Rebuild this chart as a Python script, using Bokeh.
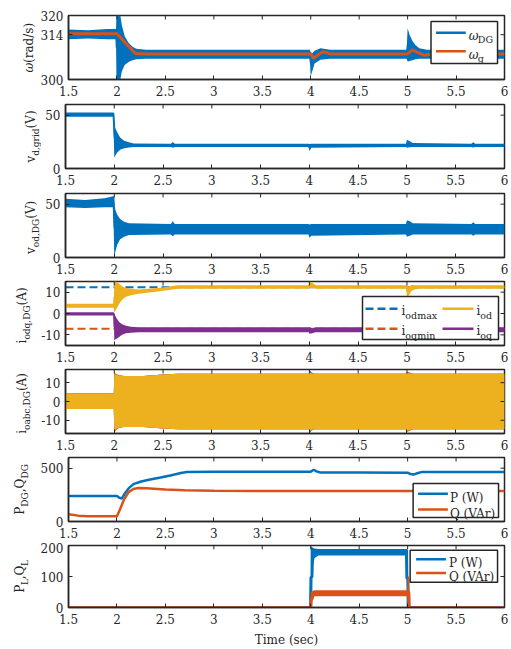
import math
from bokeh.plotting import figure
from bokeh.models import Label, Range1d, FixedTicker
from bokeh.layouts import column, row
from bokeh.embed import file_html
from bokeh.resources import INLINE
from bokeh.core.properties import value

# ---------------- data ----------------
X_RANGE = (1.5, 6.0)
X_TICKS = [1.5, 2, 2.5, 3, 3.5, 4, 4.5, 5, 5.5, 6]
X_TICK_LABELS = ["1.5", "2", "2.5", "3", "3.5", "4", "4.5", "5", "5.5", "6"]

# panel 1: omega
W_Y_RANGE = (300, 320)
W_Y_TICKS = [300, 314, 320]
W_Y_TICK_LABELS = ["300", "314", "320"]
W_T = [1.5, 1.7, 1.9, 1.99, 1.995, 2.035, 2.05, 2.08, 2.12, 2.16, 2.2, 2.3, 3.0, 3.99, 4.0,
       4.015, 4.04, 4.1, 4.2, 4.99, 5.0, 5.02, 5.05, 5.08, 5.12, 5.2, 6.0]
W_DG_HI = [315.6, 315.4, 315.8, 315.8, 320, 320, 317, 313.5, 311.5, 310.2, 309.6, 309.3, 309.3, 309.3, 308.5,
           308.2, 309.0, 309.8, 309.3, 309.3, 316.0, 314.0, 312.0, 310.8, 309.8, 309.3, 309.3]
W_DG_LO = [312.6, 312.8, 312.6, 312.6, 300, 300, 302.5, 304.5, 305.5, 306.0, 306.3, 306.5, 306.5, 306.5, 301.0,
           302.5, 305.0, 306.2, 306.5, 306.5, 305.6, 305.8, 306.0, 306.3, 306.5, 306.5, 306.5]
WG_T = [1.5, 2.0, 2.1, 2.19, 2.3, 4.0, 4.03, 4.08, 4.13, 4.2, 5.0, 5.02, 5.05, 5.1, 5.17, 5.25, 6.0]
WG = [314.3, 314.3, 311.0, 308.1, 308.0, 308.0, 306.6, 307.8, 308.7, 308.0, 308.0, 308.5, 309.3, 308.5, 307.6, 308.0, 308.0]

# panel 2: v_d,grid
VG_Y_RANGE = (0, 60)
VG_Y_TICKS = [0, 50]
VG_Y_TICK_LABELS = ["0", "50"]
VG_T = [1.5, 1.99, 2.0, 2.01, 2.03, 2.06, 2.1, 2.15, 2.2, 2.58, 2.6, 2.62, 3.99, 4.0, 4.02,
        4.99, 5.0, 5.03, 5.06, 5.66, 5.68, 5.7, 6.0]
VG_HI = [52.5, 52.5, 52, 38, 34, 29, 26, 24.5, 23.5, 23.3, 24.8, 23.3, 23.3, 23, 23.3,
         23.3, 27, 25.5, 23.8, 23.3, 24.5, 23.3, 23.3]
VG_LO = [48.5, 48.5, 10, 12, 15, 17.5, 19, 19.8, 20.2, 20.2, 19.5, 20.2, 20.2, 16.5, 19.5,
         20.2, 19.5, 20, 20.2, 20.2, 19.8, 20.2, 20.2]

# panel 3: v_od,DG
VO_Y_RANGE = (0, 60)
VO_Y_TICKS = [0, 50]
VO_Y_TICK_LABELS = ["0", "50"]
VO_T = [1.5, 1.7, 1.9, 1.99, 2.0, 2.01, 2.03, 2.06, 2.1, 2.15, 2.58, 2.6, 2.62, 3.99, 4.0, 4.02,
        4.99, 5.0, 5.03, 5.06, 5.66, 5.68, 5.7, 6.0]
VO_HI = [55, 54, 55.5, 57.5, 57, 45, 40, 36, 33.5, 32, 31.5, 34, 31.5, 31.5, 31, 31.5,
         31.5, 35, 34, 32, 31.5, 33, 31.5, 31.5]
VO_LO = [47, 46.5, 47, 47, 0.5, 5, 12, 17, 19.5, 21, 21.5, 20, 21.5, 21.5, 18.5, 20.5,
         21.5, 19.5, 20.5, 21.5, 21.5, 20.5, 21.5, 21.5]

# panel 4: i_odq,DG
IQ_Y_RANGE = (-15, 15)
IQ_Y_TICKS = [-10, 0, 10]
IQ_Y_TICK_LABELS = ["-10", "0", "10"]
LIMIT_T = [1.5, 6.0]
I_ODMAX = [12.3, 12.3]
I_OQMIN = [-7.2, -7.2]
I_OD_T = [1.5, 1.995, 2.0, 2.02, 2.05, 2.08, 2.12, 2.17, 2.25, 2.45, 2.65, 3.995, 4.0, 4.02, 4.04, 4.07,
          4.995, 5.0, 5.02, 5.05, 5.08, 5.12, 6.0]
I_OD_HI = [4.6, 4.6, 15.0, 15.0, 14.0, 12.8, 12.0, 11.6, 11.2, 12.0, 13.2, 13.2, 15.0, 14.8, 14.0, 13.2,
           13.2, 13.2, 12.5, 13.5, 13.3, 13.2, 13.2]
I_OD_LO = [2.7, 2.7, 0.5, 2.0, 4.5, 6.5, 7.8, 8.5, 9.3, 10.3, 11.6, 11.6, 12.0, 12.0, 11.8, 11.6,
           11.6, 7.5, 8.5, 10.8, 11.3, 11.6, 11.6]
I_OQ_T = [1.5, 1.995, 2.0, 2.02, 2.05, 2.08, 2.12, 2.17, 2.25, 3.995, 4.0, 4.03, 4.06, 4.995, 5.0, 5.03, 6.0]
I_OQ_HI = [0.6, 0.6, 0.0, -2.0, -4.0, -5.0, -5.8, -6.2, -6.5, -6.5, -6.3, -7.0, -6.5, -6.5, -6.3, -6.5, -6.5]
I_OQ_LO = [-0.9, -0.9, -12.5, -12.0, -11.0, -10.0, -9.3, -9.0, -8.8, -8.8, -9.5, -9.2, -8.8, -8.8, -9.0, -8.8, -8.8]

# panel 5: i_oabc,DG (envelopes of the three phases)
IA_Y_RANGE = (-17, 17)
IA_Y_TICKS = [-10, 0, 10]
IA_Y_TICK_LABELS = ["-10", "0", "10"]
IABC_T = [1.5, 1.995, 2.0, 2.01, 2.03, 2.06, 2.1, 2.3, 2.5, 2.65, 3.995, 4.0, 4.02, 4.05,
          4.995, 5.0, 5.03, 5.06, 6.0]
IA_HI = [4.3, 4.3, 15.2, 14.6, 14.0, 13.8, 13.6, 13.6, 14.3, 14.8, 14.8, 16.8, 15.5, 14.8,
         14.8, 15.4, 15.0, 14.8, 14.8]
IA_LO = [-4.0, -4.0, -16.0, -15.0, -14.2, -13.8, -13.6, -13.6, -14.3, -14.8, -14.8, -17.0, -15.5, -14.8,
         -14.8, -15.8, -15.2, -14.8, -14.8]
IB_HI = [4.3, 4.3, 15.5, 15.0, 14.4, 13.8, 13.6, 13.6, 14.3, 14.8, 14.8, 15.8, 15.0, 14.8,
         14.8, 15.8, 15.4, 14.8, 14.8]
IB_LO = [-4.0, -4.0, -16.8, -15.8, -14.6, -13.8, -13.6, -13.6, -14.3, -14.8, -14.8, -16.0, -15.2, -14.8,
         -14.8, -16.2, -15.6, -14.8, -14.8]
IC_HI = [4.3, 4.3, 15.0, 14.5, 14.0, 13.8, 13.6, 13.6, 14.3, 14.8, 14.8, 15.5, 15.0, 14.8,
         14.8, 15.2, 15.0, 14.8, 14.8]
IC_LO = [-4.0, -4.0, -16.0, -15.0, -14.2, -13.8, -13.6, -13.6, -14.3, -14.8, -14.8, -16.0, -15.2, -14.8,
         -14.8, -15.8, -15.2, -14.8, -14.8]

# panel 6: P_DG, Q_DG
PQ_Y_RANGE = (0, 600)
PQ_Y_TICKS = [0, 500]
PQ_Y_TICK_LABELS = ["0", "500"]
PDG_T = [1.5, 2.0, 2.02, 2.05, 2.08, 2.12, 2.17, 2.25, 2.33, 2.45, 2.55, 2.66, 2.72, 3.0, 4.0, 4.03,
         4.06, 4.1, 4.5, 5.0, 5.03, 5.06, 5.1, 5.15, 6.0]
PDG = [240, 240, 225, 215, 260, 310, 350, 375, 392, 412, 432, 455, 465, 466, 466, 485,
       470, 460, 460, 458, 445, 440, 452, 465, 465]
QDG_T = [1.5, 1.6, 1.7, 2.0, 2.03, 2.07, 2.12, 2.17, 2.22, 2.3, 2.5, 2.7, 3.0, 4.0, 6.0]
QDG = [68, 55, 50, 50, 110, 200, 275, 305, 314, 312, 300, 293, 288, 285, 285]

# panel 7: P_L, Q_L
PL_Y_RANGE = (0, 200)
PL_Y_TICKS = [0, 100, 200]
PL_Y_TICK_LABELS = ["0", "100", "200"]
PL_T = [1.5, 3.995, 4.0, 4.015, 4.02, 4.04, 4.08, 4.5, 4.985, 4.99, 5.005, 5.01, 6.0]
PL_HI = [0, 0, 197, 195, 193, 190, 189, 189, 189, 189, 185, 0, 0]
PL_LO = [0, 0, 0, 0, 130, 160, 168, 168, 168, 0, 0, 0, 0]
QL_T = [1.5, 3.995, 4.0, 4.015, 4.02, 4.04, 4.5, 4.995, 5.0, 5.015, 5.02, 6.0]
QL_HI = [0, 0, 52, 52, 54, 56, 56, 56, 100, 100, 0, 0]
QL_LO = [0, 0, 0, 0, 25, 36, 36, 36, 0, 0, 0, 0]

# ---------------- style / layout ----------------
FONT = "DejaVu Serif"
INK = "#262626"
BLUE, ORANGE, YELLOW, PURPLE = "#0072BD", "#D95319", "#EDB120", "#7E2F8E"
MAIN, SUB = 12, 9.5          # tick / legend text
YL_MAIN, YL_SUB = 12, 9      # y-axis title text
MID_FRAC = 0.33              # em fraction between baseline and the "middle" line

LEFT_TOTAL = 65            # page x of frame left
BORDER_R = 6
FRAME_W, FRAME_H = 439, 64
FRAME_LEFT = LEFT_TOTAL
TOPS = [15, 3, 3, 3, 3, 3, 3]
BOTTOMS = [22, 22, 21, 21, 21, 21, 40]
AXIS_BORDERS = [28, 24, 24, 27, 27, 28, 28]   # room kept for y tick labels in each row
Y_RANGES = [W_Y_RANGE, VG_Y_RANGE, VO_Y_RANGE, IQ_Y_RANGE, IA_Y_RANGE, PQ_Y_RANGE, PL_Y_RANGE]
HEIGHTS = [t + FRAME_H + b for t, b in zip(TOPS, BOTTOMS)]
FIG_TOPS = [sum(HEIGHTS[:i]) for i in range(len(HEIGHTS))]
FRAME_TOPS = [ft + t for ft, t in zip(FIG_TOPS, TOPS)]
TICK_LEN = 4

CW = {'.': 0.318, ',': 0.318, ' ': 0.318, '(': 0.390, ')': 0.390, '/': 0.337, '-': 0.338,
      'a': 0.596, 'b': 0.640, 'c': 0.560, 'd': 0.640, 'e': 0.592, 'g': 0.640, 'i': 0.320,
      'm': 0.948, 'o': 0.602, 'q': 0.640, 'r': 0.478, 's': 0.513, 'x': 0.564, 'v': 0.565,
      'A': 0.722, 'D': 0.830, 'G': 0.775, 'L': 0.653, 'P': 0.683, 'Q': 0.820, 'V': 0.722,
      'W': 1.030, 'T': 0.668, '\u03c9': 0.76}


def text_width(s, size):
    return sum(CW.get(c, 0.636 if c.isdigit() else 0.6) for c in s) * size


def to_data(idx, px, py):
    y0, y1 = Y_RANGES[idx]
    x = X_RANGE[0] + (px - FRAME_LEFT) / FRAME_W * (X_RANGE[1] - X_RANGE[0])
    y = y0 + (FRAME_TOPS[idx] + FRAME_H - py) / FRAME_H * (y1 - y0)
    return x, y


def mk_label(x, y, text, size, italic=False):
    return Label(x=x, y=y, text=text, text_font=FONT, text_font_size=f"{size}px",
                 text_font_style="italic" if italic else "normal", text_color=INK,
                 text_baseline="alphabetic", text_align="left")


def htext(p, idx, px, py, parts, drop=4):
    x = px
    for text, kind in parts:
        size = SUB if kind == "sub" else MAIN
        y = py + (drop if kind == "sub" else 0)
        dx, dy = to_data(idx, x, y)
        p.add_layout(mk_label(dx, dy, text, size, italic=(kind == "ital")))
        x += text_width(text, size)


def label_fig(idx, base_x, sub_x, parts):
    """narrow figure at the left of a row holding the rotated y-axis title.
    Its frame has the same vertical extent as the plot frame next to it;
    data y = -(page y), data x = page x."""
    w = LEFT_TOTAL - AXIS_BORDERS[idx]
    h = HEIGHTS[idx]
    ftop = FRAME_TOPS[idx]
    f = figure(width=w, height=h, x_range=Range1d(0, w),
               y_range=Range1d(-(ftop + FRAME_H), -ftop),
               x_axis_type=None, y_axis_type=None,
               output_backend="svg", toolbar_location=None,
               min_border_left=0, min_border_right=0,
               min_border_top=TOPS[idx], min_border_bottom=BOTTOMS[idx],
               background_fill_color="white", border_fill_color="white")
    f.grid.visible = False
    f.outline_line_color = None
    total = sum(text_width(t, YL_SUB if k == "sub" else YL_MAIN) for t, k in parts)
    y = ftop + FRAME_H / 2 + total / 2     # page y where the title starts (bottom)
    for text, kind in parts:
        size = YL_SUB if kind == "sub" else YL_MAIN
        wdt = text_width(text, size)
        bx = sub_x if kind == "sub" else base_x
        cx = bx - MID_FRAC * size          # glyph "up" points to the left
        cy = y - wdt / 2
        f.text(x=[cx], y=[-cy], text=[text], angle=math.pi / 2,
               text_font=value(FONT), text_font_size=value(f"{size}px"),
               text_font_style=value("italic" if kind == "ital" else "normal"),
               text_color=INK, text_align=value("center"), text_baseline=value("middle"))
        y -= wdt
    return f


def make_fig(idx, yticks, ylabels):
    bl = AXIS_BORDERS[idx]
    p = figure(width=bl + FRAME_W + BORDER_R, height=HEIGHTS[idx],
               x_range=Range1d(*X_RANGE), y_range=Range1d(*Y_RANGES[idx]),
               output_backend="svg", toolbar_location=None,
               min_border_left=bl, min_border_right=BORDER_R,
               min_border_top=TOPS[idx], min_border_bottom=BOTTOMS[idx],
               background_fill_color="white", border_fill_color="white")
    p.xgrid.visible = False
    p.ygrid.visible = False
    p.outline_line_color = INK
    p.outline_line_width = 1.5
    p.outline_line_alpha = 1.0
    for ax, ticks, labels in ((p.xaxis[0], X_TICKS, X_TICK_LABELS),
                              (p.yaxis[0], yticks, ylabels)):
        ax.ticker = FixedTicker(ticks=ticks)
        ax.major_label_overrides = {float(t): l for t, l in zip(ticks, labels)}
        ax.major_tick_in = TICK_LEN
        ax.major_tick_out = 0
        ax.minor_tick_in = 0
        ax.minor_tick_out = 0
        ax.major_tick_line_color = INK
        ax.major_tick_line_width = 1
        ax.axis_line_color = INK
        ax.axis_line_width = 1.5
        ax.major_label_text_font = FONT
        ax.major_label_text_font_size = f"{MAIN}px"
        ax.major_label_text_color = INK
    p.xaxis[0].major_label_standoff = 6
    p.yaxis[0].major_label_standoff = 5
    return p


def mirror_ticks(p, idx, yticks):
    y0, y1 = Y_RANGES[idx]
    ly = TICK_LEN / FRAME_H * (y1 - y0)
    lx = TICK_LEN / FRAME_W * (X_RANGE[1] - X_RANGE[0])
    xs = [t for t in X_TICKS if X_RANGE[0] < t < X_RANGE[1]]
    p.segment(x0=xs, y0=[y1] * len(xs), x1=xs, y1=[y1 - ly] * len(xs), line_color=INK, line_width=1)
    ys = [t for t in yticks if y0 < t < y1]
    p.segment(x0=[X_RANGE[1]] * len(ys), y0=ys, x1=[X_RANGE[1] - lx] * len(ys), y1=ys,
              line_color=INK, line_width=1)


def band(p, t, hi, lo, color, lw=1.5):
    p.varea(x=t, y1=lo, y2=hi, fill_color=color, fill_alpha=1.0)
    mid = [(a + b) / 2 for a, b in zip(hi, lo)]
    p.line(t, mid, line_color=color, line_width=lw)


def legend_box(p, idx, l, r, t, b):
    x0, y0 = to_data(idx, l, b)
    x1, y1 = to_data(idx, r, t)
    p.quad(left=x0, right=x1, bottom=y0, top=y1, fill_color="white", line_color=INK, line_width=1.5)


def legend_line(p, idx, xa, xb, yc, color, dash="solid"):
    x0, y = to_data(idx, xa, yc)
    x1, _ = to_data(idx, xb, yc)
    p.line([x0, x1], [y, y], line_color=color, line_width=2.5, line_dash=dash)


rows = []

# ---- panel 1
p = make_fig(0, W_Y_TICKS, W_Y_TICK_LABELS)
band(p, W_T, W_DG_HI, W_DG_LO, BLUE)
p.line(WG_T, WG, line_color=ORANGE, line_width=3)
legend_box(p, 0, 430, 497, 21, 63)
legend_line(p, 0, 435, 465, 32.3, BLUE)
legend_line(p, 0, 435, 465, 50.7, ORANGE)
htext(p, 0, 468, 35, [("\u03c9", "ital"), ("DG", "sub")])
htext(p, 0, 468, 54, [("\u03c9", "ital"), ("g", "sub")])
mirror_ticks(p, 0, W_Y_TICKS)
rows.append(row(label_fig(0, 32, 36, [("\u03c9", "ital"), ("(rad/s)", "main")]), p))

# ---- panel 2
p = make_fig(1, VG_Y_TICKS, VG_Y_TICK_LABELS)
band(p, VG_T, VG_HI, VG_LO, BLUE)
mirror_ticks(p, 1, VG_Y_TICKS)
rows.append(row(label_fig(1, 34.5, 38.5, [("v", "main"), ("d,grid", "sub"), ("(V)", "main")]), p))

# ---- panel 3
p = make_fig(2, VO_Y_TICKS, VO_Y_TICK_LABELS)
band(p, VO_T, VO_HI, VO_LO, BLUE)
mirror_ticks(p, 2, VO_Y_TICKS)
rows.append(row(label_fig(2, 34.5, 38.5, [("v", "main"), ("od,DG", "sub"), (" (V)", "main")]), p))

# ---- panel 4
p = make_fig(3, IQ_Y_TICKS, IQ_Y_TICK_LABELS)
p.line(LIMIT_T, I_ODMAX, line_color=BLUE, line_width=2, line_dash="8 4")
p.line(LIMIT_T, I_OQMIN, line_color=ORANGE, line_width=2, line_dash="8 4")
band(p, I_OD_T, I_OD_HI, I_OD_LO, YELLOW)
band(p, I_OQ_T, I_OQ_HI, I_OQ_LO, PURPLE)
legend_box(p, 3, 362, 498, 296, 339)
legend_line(p, 3, 365, 398, 308.3, BLUE, "8 4")
legend_line(p, 3, 365, 398, 328.3, ORANGE, "8 4")
legend_line(p, 3, 442, 473, 308.3, YELLOW)
legend_line(p, 3, 442, 473, 328.3, PURPLE)
htext(p, 3, 401, 310.5, [("i", "main"), ("odmax", "sub")])
htext(p, 3, 401, 330.5, [("i", "main"), ("oqmin", "sub")])
htext(p, 3, 476, 310.5, [("i", "main"), ("od", "sub")])
htext(p, 3, 476, 330.5, [("i", "main"), ("oq", "sub")])
mirror_ticks(p, 3, IQ_Y_TICKS)
rows.append(row(label_fig(3, 25.5, 29.5, [("i", "main"), ("odq,DG", "sub"), (" (A)", "main")]), p))

# ---- panel 5
p = make_fig(4, IA_Y_TICKS, IA_Y_TICK_LABELS)
band(p, IABC_T, IA_HI, IA_LO, BLUE, lw=1)
band(p, IABC_T, IB_HI, IB_LO, ORANGE, lw=1)
band(p, IABC_T, IC_HI, IC_LO, YELLOW, lw=1)
mirror_ticks(p, 4, IA_Y_TICKS)
rows.append(row(label_fig(4, 25.5, 29.5, [("i", "main"), ("oabc,DG", "sub"), (" (A)", "main")]), p))

# ---- panel 6
p = make_fig(5, PQ_Y_TICKS, PQ_Y_TICK_LABELS)
p.line(PDG_T, PDG, line_color=BLUE, line_width=2.5)
p.line(QDG_T, QDG, line_color=ORANGE, line_width=2.5)
legend_box(p, 5, 412, 498, 483, 517)
legend_line(p, 5, 417, 447, 493.3, BLUE)
legend_line(p, 5, 417, 447, 509, ORANGE)
htext(p, 5, 449, 497.5, [("P (W)", "main")])
htext(p, 5, 449, 513, [("Q (VAr)", "main")])
mirror_ticks(p, 5, PQ_Y_TICKS)
rows.append(row(label_fig(5, 23.5, 27.5, [("P", "main"), ("DG", "sub"), (",Q", "main"), ("DG", "sub")]), p))

# ---- panel 7
p = make_fig(6, PL_Y_TICKS, PL_Y_TICK_LABELS)
band(p, PL_T, PL_HI, PL_LO, BLUE, lw=2.5)
band(p, QL_T, QL_HI, QL_LO, ORANGE, lw=2.5)
legend_box(p, 6, 409, 497, 550, 583)
legend_line(p, 6, 415, 445, 559.3, BLUE)
legend_line(p, 6, 415, 445, 573.3, ORANGE)
htext(p, 6, 448, 563.5, [("P (W)", "main")])
htext(p, 6, 448, 577.5, [("Q (VAr)", "main")])
mirror_ticks(p, 6, PL_Y_TICKS)
p.xaxis[0].axis_label = "Time (sec)"
p.xaxis[0].axis_label_text_font = FONT
p.xaxis[0].axis_label_text_font_size = f"{MAIN}px"
p.xaxis[0].axis_label_text_font_style = "normal"
p.xaxis[0].axis_label_text_color = INK
p.xaxis[0].axis_label_standoff = 6
rows.append(row(label_fig(6, 23.5, 27.5, [("P", "main"), ("L", "sub"), (",Q", "main"), ("L", "sub")]), p))

layout = column(*rows, spacing=0)
open("out.html", "w").write(file_html(layout, INLINE))
